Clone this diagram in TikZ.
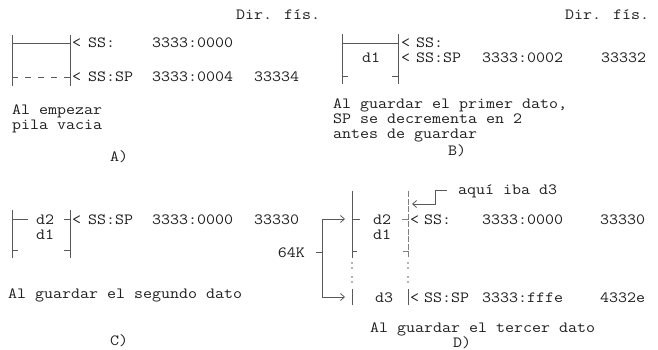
\documentclass[tikz,border=0pt]{standalone}
\usetikzlibrary{arrows.meta}
\newcommand\mytx[1]{\scalebox{1.12}[1]{#1}}
\begin{document}
\begin{tikzpicture}[x=1pt,y=-1pt,
  txt/.style={font=\ttfamily\fontsize{15.6}{18}\selectfont, anchor=base west, inner sep=0pt, text=black!88},
  txtr/.style={txt, anchor=base east},
  ln/.style={draw=black!65, line width=0.8pt},
  lnlight/.style={draw=black!50, line width=0.8pt},
  tipd/.style={-{Straight Barb[length=4pt,width=7pt]}},
  dotm/.style={fill=black!60, draw=none, circle, inner sep=0pt, minimum size=1.8pt}]
\useasboundingbox (0,0) rectangle (658,350);

% ---------------- Panel A ----------------
\node[txt] (dirA) at (236,20) {\mytx{Dir. fís.}};
\draw[ln] (12,35) -- (12,86);
\draw[ln] (70,35) -- (70,86);
\draw[ln] (12,43) -- (70,43);
\draw[ln, dash pattern=on 6pt off 7pt] (12,77) -- (70,77);
\node[txt] (aLt1) at (72,48) {\mytx{<}};
\node[txt] (aSS) at (88,48) {\mytx{SS:}};
\node[txt] (aAddr1) at (152,48) {\mytx{3333:0000}};
\node[txt] (aLt2) at (72,82) {\mytx{<}};
\node[txt] (aSSSP) at (88,82) {\mytx{SS:SP}};
\node[txt] (aAddr2) at (152,82) {\mytx{3333:0004}};
\node[txt] (aPhys) at (254,82) {\mytx{33334}};
\node[txt] (aT1) at (12,114) {\mytx{Al empezar}};
\node[txt] (aT2) at (12,129) {\mytx{pila vacia}};
\node[txt] (aLab) at (110,161) {\mytx{A)}};

% ---------------- Panel B ----------------
\node[txt] (dirB) at (565,20) {\mytx{Dir. fís.}};
\draw[ln] (342,34) -- (342,84);
\draw[ln] (398,34) -- (398,84);
\draw[ln] (342,43) -- (398,43);
\draw[ln] (342,76) -- (348,76);
\draw[ln] (392,76) -- (398,76);
\node[txt] (bLt1) at (401,48) {\mytx{<}};
\node[txt] (bSS) at (416,48) {\mytx{SS:}};
\node[txt] (bD1) at (362,63) {\mytx{d1}};
\node[txt] (bLt2) at (401,63) {\mytx{<}};
\node[txt] (bSSSP) at (416,63) {\mytx{SS:SP}};
\node[txt] (bAddr) at (482,63) {\mytx{3333:0002}};
\node[txt] (bPhys) at (601,63) {\mytx{33332}};
\node[txt] (bT1) at (333,109) {\mytx{Al guardar el primer dato,}};
\node[txt] (bT2) at (333,124) {\mytx{SP se decrementa en 2}};
\node[txt] (bT3) at (333,139) {\mytx{antes de guardar}};
\node[txt] (bLab) at (448,155) {\mytx{B)}};

% ---------------- Panel C ----------------
\draw[ln] (12,210) -- (12,258);
\draw[ln] (70,210) -- (70,258);
\draw[ln] (12,219) -- (28,219);
\draw[ln] (64,219) -- (70,219);
\draw[ln] (12,250) -- (18,250);
\draw[ln] (64,250) -- (70,250);
\node[txt] (cD2) at (36,224) {\mytx{d2}};
\node[txt] (cD1) at (36,239) {\mytx{d1}};
\node[txt] (cLt) at (72,224) {\mytx{<}};
\node[txt] (cSSSP) at (88,224) {\mytx{SS:SP}};
\node[txt] (cAddr) at (152,224) {\mytx{3333:0000}};
\node[txt] (cPhys) at (254,224) {\mytx{33330}};
\node[txt] (cT1) at (8,298) {\mytx{Al guardar el segundo dato}};
\node[txt] (cLab) at (110,345) {\mytx{C)}};

% ---------------- Panel D ----------------
% left stack wall
\draw[ln] (352,191) -- (352,258);
\draw[ln] (352,219) -- (360,219);
\draw[ln] (352,251) -- (357,251);
\foreach \yy in {263,268,277,282} \node[dotm] at (352,\yy) {};
\draw[ln] (352,289) -- (352,305);
% right stack wall
\draw[lnlight, dash pattern=on 6pt off 1.5pt] (408,191) -- (408,258);
\draw[lnlight] (402,219) -- (408,219);
\draw[lnlight] (403,251) -- (408,251);
\foreach \yy in {263,268,277,282} \node[dotm] at (408,\yy) {};
\draw[ln] (408,289) -- (408,305);

\node[txt] (dD2) at (373,224) {\mytx{d2}};
\node[txt] (dD1) at (373,239) {\mytx{d1}};
\node[txt] (dLt1) at (410,224) {\mytx{<}};
\node[txt] (dSS) at (424,224) {\mytx{SS:}};
\node[txt] (dAddr1) at (482,224) {\mytx{3333:0000}};
\node[txt] (dPhys1) at (600,224) {\mytx{33330}};

\node[txt] (dD3) at (375,302) {\mytx{d3}};
\node[txt] (dLt2) at (410,302) {\mytx{<}};
\node[txt] (dSSSP) at (424,302) {\mytx{SS:SP}};
\node[txt] (dAddr2) at (482,302) {\mytx{3333:fffe}};
\node[txt] (dPhys2) at (600,302) {\mytx{4332e}};

% 64K bracket
\node[txtr] (k64) at (305,257) {\mytx{64K}};
\coordinate (brMid) at (322,252);
\coordinate (brTick) at (316,252);
\coordinate (brTop) at (345,219);
\coordinate (brBot) at (345,297);
\draw[ln] (brTick) -- (brMid);
\draw[ln, tipd] (brMid) |- (brTop);
\draw[ln, tipd] (brMid) |- (brBot);

% callout
\node[txt] (aqui) at (458,194) {\mytx{aquí iba d3}};
\coordinate (coStart) at (447,190);
\coordinate (coBend) at (435,190);
\coordinate (coEnd) at (412,204);
\draw[ln, tipd] (coStart) -- (coBend) |- (coEnd);

\node[txt] (dT1) at (370,332) {\mytx{Al guardar el tercer dato}};
\node[txt] (dLab) at (453,347) {\mytx{D)}};
\end{tikzpicture}
\end{document}
